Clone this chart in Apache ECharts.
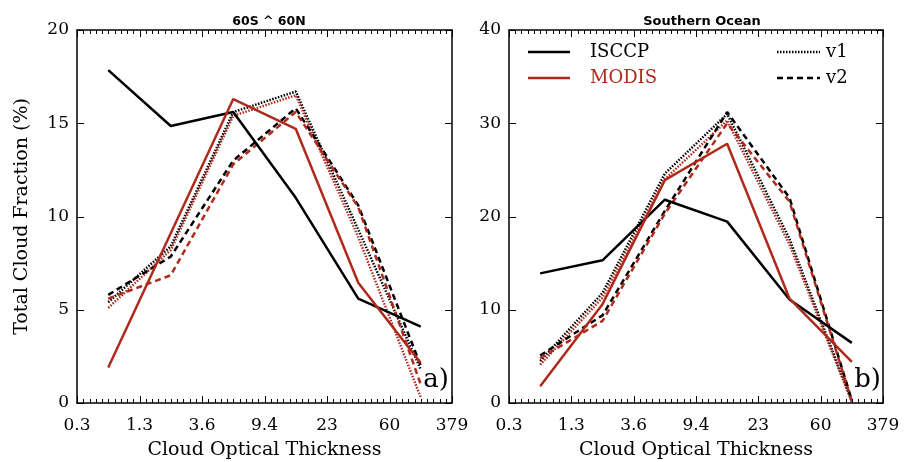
<!DOCTYPE html>
<html>
<head>
<meta charset="utf-8">
<script src="https://cdn.jsdelivr.net/npm/echarts@6/dist/echarts.min.js"></script>
<style>
html,body{margin:0;padding:0;background:#fff;}
#c{width:905px;height:462px;}
</style>
</head>
<body>
<div id="c"></div>
<script>
// Bin edges (tick labels) of cloud optical thickness
const tickLabels = ['0.3', '1.3', '3.6', '9.4', '23', '60', '379'];

// Panel a) 60S ^ 60N  (one value per optical-thickness bin)
const isccpObsA = [17.85, 14.85, 15.6, 11.0, 5.6, 4.1];
const modisObsA = [1.9, 9.1, 16.3, 14.7, 6.45, 2.15];
const isccpV1A  = [5.4, 8.4, 15.6, 16.7, 9.3, 1.8];
const modisV1A  = [5.1, 8.2, 15.4, 16.5, 8.9, 0.3];
const isccpV2A  = [5.8, 7.85, 13.0, 15.8, 10.6, 2.0];
const modisV2A  = [5.6, 6.85, 12.8, 15.6, 10.5, 1.0];

// Panel b) Southern Ocean
const isccpObsB = [13.9, 15.3, 21.8, 19.45, 11.1, 6.45];
const modisObsB = [1.8, 10.6, 23.9, 27.8, 11.2, 4.4];
const isccpV1B  = [4.5, 11.8, 24.6, 31.0, 17.6, 0.2];
const modisV1B  = [4.1, 11.3, 24.0, 30.3, 17.0, 0.1];
const isccpV2B  = [5.1, 9.4, 20.6, 31.2, 22.0, 0.3];
const modisV2B  = [4.8, 8.8, 20.3, 30.0, 21.6, 0.2];

const titles = ['60S ^ 60N', 'Southern Ocean'];
const panelTags = ['a)', 'b)'];
const yMax = [20, 40];
const yStep = [5, 10];

const BLACK = '#000000';
const RED = '#b0291d';
const SERIF = 'DejaVu Serif';

const chart = echarts.init(document.getElementById('c'), null, {renderer: 'canvas'});

// bins are centred between consecutive tick labels
const toPts = arr => arr.map((v, i) => [i + 0.5, v]);

const grids = [
  {left: 77, top: 30, width: 375, height: 373, outerBoundsMode: 'none', containLabel: false},
  {left: 509, top: 30, width: 374, height: 373, outerBoundsMode: 'none', containLabel: false}
];

const xAxes = [], yAxes = [], series = [];
grids.forEach((g, gi) => {
  const baseX = {
    gridIndex: gi, type: 'value', min: 0, max: 6, interval: 1,
    axisLine: {show: true, onZero: false, lineStyle: {color: BLACK, width: 1.5}},
    axisTick: {show: false},
    splitLine: {show: false}
  };
  xAxes.push(Object.assign({}, baseX, {
    position: 'bottom',
    name: 'Cloud Optical Thickness', nameLocation: 'middle', nameGap: 38,
    nameTextStyle: {fontFamily: SERIF, fontSize: 19, color: BLACK},
    axisLabel: {show: true, margin: 14, fontFamily: SERIF, fontSize: 17, color: BLACK,
      formatter: v => tickLabels[Math.round(v)] ?? ''}
  }));
  xAxes.push(Object.assign({}, baseX, {position: 'top', axisLabel: {show: false}}));

  const baseY = {
    gridIndex: gi, type: 'value', min: 0, max: yMax[gi], interval: yStep[gi],
    axisLine: {show: true, onZero: false, lineStyle: {color: BLACK, width: 1.5}},
    axisTick: {show: false},
    splitLine: {show: false}
  };
  const yl = Object.assign({}, baseY, {
    position: 'left',
    axisLabel: {show: true, margin: 8, fontFamily: SERIF, fontSize: 17, color: BLACK}
  });
  if (gi === 0) {
    yl.name = 'Total Cloud Fraction (%)';
    yl.nameLocation = 'middle';
    yl.nameGap = 45;
    yl.nameTextStyle = {fontFamily: SERIF, fontSize: 19, color: BLACK};
  }
  yAxes.push(yl);
  yAxes.push(Object.assign({}, baseY, {position: 'right', axisLabel: {show: false}}));

  // inward ticks on all four sides, positioned through the axes' own scales
  series.push({
    type: 'custom', xAxisIndex: gi * 2, yAxisIndex: gi * 2, silent: true, z: 5,
    clip: false, data: [[0, 0]],
    renderItem: function (params, api) {
      const children = [];
      const ln = (x1, y1, x2, y2) => children.push({type: 'line',
        shape: {x1: x1, y1: y1, x2: x2, y2: y2}, style: {stroke: BLACK, lineWidth: 1}});
      const ymax = yMax[gi];
      for (let i = 0; i <= 60; i++) {
        const xv = i / 10;
        const len = (i % 10 === 0) ? 7 : 4;
        const pb = api.coord([xv, 0]);
        const pt = api.coord([xv, ymax]);
        const x = Math.round(pb[0]) + 0.5;
        ln(x, pb[1], x, pb[1] - len);
        ln(x, pt[1], x, pt[1] + len);
      }
      for (let yv = 0; yv <= ymax; yv += yStep[gi]) {
        const pl = api.coord([0, yv]);
        const pr = api.coord([6, yv]);
        const y = Math.round(pl[1]) + 0.5;
        ln(pl[0], y, pl[0] + 7, y);
        ln(pr[0], y, pr[0] - 7, y);
      }
      return {type: 'group', children: children};
    }
  });
});

function addSeries(gi, name, data, color, type) {
  let lt = 'solid', w = 2.5;
  if (type === 'dotted') { lt = [1.5, 1.5]; w = 2.5; }
  if (type === 'dashed') { lt = [6, 4]; w = 2.5; }
  series.push({
    name: name, type: 'line', xAxisIndex: gi * 2, yAxisIndex: gi * 2,
    data: toPts(data), symbol: 'none', silent: true, animation: false,
    lineStyle: {color: color, width: w, type: lt}
  });
}
[[isccpObsA, modisObsA, isccpV1A, modisV1A, isccpV2A, modisV2A],
 [isccpObsB, modisObsB, isccpV1B, modisV1B, isccpV2B, modisV2B]].forEach((s, gi) => {
  addSeries(gi, 'ISCCP v1', s[2], BLACK, 'dotted');
  addSeries(gi, 'MODIS v1', s[3], RED, 'dotted');
  addSeries(gi, 'ISCCP v2', s[4], BLACK, 'dashed');
  addSeries(gi, 'MODIS v2', s[5], RED, 'dashed');
  addSeries(gi, 'ISCCP', s[0], BLACK, 'solid');
  addSeries(gi, 'MODIS', s[1], RED, 'solid');
});

const graphic = [
  // legend (panel b)
  {type: 'line', shape: {x1: 528, y1: 52, x2: 570, y2: 52}, style: {stroke: BLACK, lineWidth: 2.5}},
  {type: 'text', x: 590, y: 52, style: {text: 'ISCCP', fill: BLACK, font: '18px "DejaVu Serif"', textVerticalAlign: 'middle'}},
  {type: 'line', shape: {x1: 528, y1: 78, x2: 570, y2: 78}, style: {stroke: RED, lineWidth: 2.5}},
  {type: 'text', x: 590, y: 78, style: {text: 'MODIS', fill: RED, font: '18px "DejaVu Serif"', textVerticalAlign: 'middle'}},
  {type: 'line', shape: {x1: 777, y1: 52, x2: 820, y2: 52}, style: {stroke: BLACK, lineWidth: 2.5, lineDash: [1.5, 1.5]}},
  {type: 'text', x: 826, y: 52, style: {text: 'v1', fill: BLACK, font: '18px "DejaVu Serif"', textVerticalAlign: 'middle'}},
  {type: 'line', shape: {x1: 777, y1: 78, x2: 820, y2: 78}, style: {stroke: BLACK, lineWidth: 2.5, lineDash: [6, 4]}},
  {type: 'text', x: 826, y: 78, style: {text: 'v2', fill: BLACK, font: '18px "DejaVu Serif"', textVerticalAlign: 'middle'}},
  // panel tags
  {type: 'text', x: 449, y: 380, style: {text: panelTags[0], fill: BLACK, font: '26px "DejaVu Serif"', textAlign: 'right', textVerticalAlign: 'middle'}},
  {type: 'text', x: 881, y: 380, style: {text: panelTags[1], fill: BLACK, font: '26px "DejaVu Serif"', textAlign: 'right', textVerticalAlign: 'middle'}}
];

chart.setOption({
  animation: false,
  backgroundColor: '#ffffff',
  title: [
    {text: titles[0], left: 264, top: 10, textAlign: 'center',
     textStyle: {fontFamily: 'DejaVu Sans', fontSize: 12.5, fontWeight: 'bold', color: BLACK}},
    {text: titles[1], left: 697, top: 10, textAlign: 'center',
     textStyle: {fontFamily: 'DejaVu Sans', fontSize: 13, fontWeight: 'bold', color: BLACK}}
  ],
  grid: grids,
  xAxis: xAxes,
  yAxis: yAxes,
  series: series,
  graphic: graphic
});
</script>
</body>
</html>
